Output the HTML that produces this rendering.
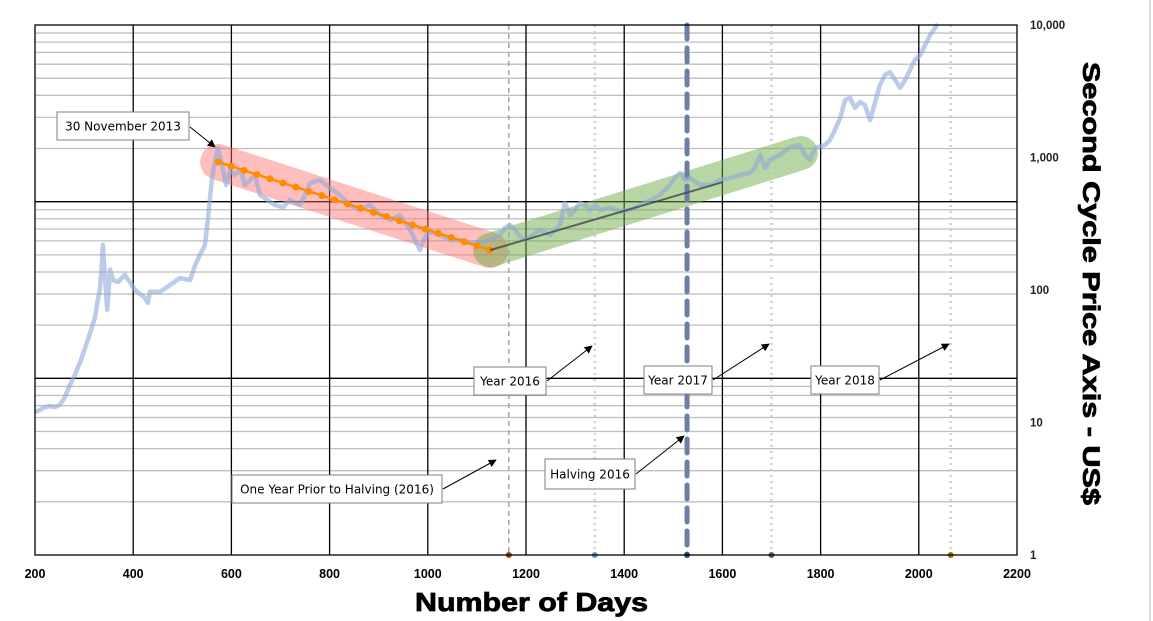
<!DOCTYPE html>
<html><head><meta charset="utf-8">
<style>
html,body{margin:0;padding:0;background:#fff;}
svg{display:block;font-family:"Liberation Sans",Arial,sans-serif;}
.box{font-family:"DejaVu Sans","Liberation Sans",sans-serif;font-size:12px;}
</style></head>
<body>
<svg id="chart" width="1153" height="621" viewBox="0 0 1153 621" xmlns="http://www.w3.org/2000/svg">
<defs>
<marker id="arr" viewBox="0 0 10 10" refX="9" refY="5" markerWidth="8" markerHeight="8" orient="auto"><path d="M0,0 L10,5 L0,10 z" fill="#000"/></marker>
</defs>
<line x1="1150" y1="0" x2="1150" y2="621" stroke="#ddd" stroke-width="2"/>
<g id="grid"></g>
<g id="bands"></g>
<g id="vlines"></g>
<g id="series"></g>
<g id="axes"></g>
<g id="notes"></g>
</svg>
<script>
// ---- data ----
const priceDays = [200,210,220,231,241,251,261,271,281,292,302,312,322,328,332,336,338,343,347,353,359,369,383,393,404,424,430,434,455,475,495,516,526,536,546,552,560,567,573,581,589,597,607,618,628,648,658,668,689,705,709,719,740,750,760,780,801,821,842,862,882,903,923,943,964,974,984,994,1004,1025,1045,1066,1086,1106,1127,1147,1157,1167,1178,1188,1198,1208,1229,1249,1269,1279,1290,1300,1310,1320,1330,1341,1351,1371,1391,1412,1432,1453,1473,1483,1493,1503,1514,1524,1534,1554,1575,1595,1615,1636,1656,1666,1677,1687,1697,1717,1738,1758,1768,1778,1789,1809,1819,1829,1840,1850,1860,1870,1880,1890,1901,1911,1921,1931,1941,1952,1962,1972,1982,1992,2003,2013,2023,2033,2039];
const priceValues = [12.0,12.4,13.1,13.3,13.1,13.6,15.6,19.2,22.8,28.6,36.5,47.3,61.5,84,100,154,219,119,71,142,119,115,130,115,100,87,80,97,97,109,123,119,154,184,218,337,676,957,1180,877,620,805,738,805,620,738,521,495,438,420,438,477,438,521,642,676,589,521,438,402,438,368,338,368,284,238,200,251,274,260,238,238,226,230,238,260,294,310,284,251,238,251,284,260,310,454,368,402,454,438,402,438,402,420,391,402,438,477,521,569,620,700,764,676,700,620,620,676,700,738,764,833,1045,833,957,1045,1200,1242,1045,957,1180,1242,1355,1614,1986,2716,2813,2364,2624,2489,1919,2624,3524,4197,4420,3846,3349,3846,4575,5445,5937,7068,8408,9490,10180];
const trendDays = [573,1127];
const trendValues = [925,200];
const trendMarkers = 22;
const trend2Days = [1127,1601];
const trend2Values = [200,653];
const greenBandDays = [1127,1760];
const greenBandValues = [200,1080];
const eventDays = [1165,1340,1528,1700,2065];
const xTicks = [200,400,600,800,1000,1200,1400,1600,1800,2000,2200];
const yTicks = [1,10,100,1000,10000];
const yTickLabels = ["1","10","100","1,000","10,000"];

// ---- scales ----
const L=35,R=1017,T=25,B=555;
const xS=d=>L+(d-200)*(R-L)/2000;
const yS=v=>B-Math.log10(v)*(B-T)/4;
const yG=k=>B-k*(B-T)/3;
const NS="http://www.w3.org/2000/svg";
function mk(tag,attrs,parent){const e=document.createElementNS(NS,tag);for(const k in attrs)e.setAttribute(k,attrs[k]);parent.appendChild(e);return e;}
const grid=document.getElementById('grid'),bands=document.getElementById('bands'),vl=document.getElementById('vlines'),ser=document.getElementById('series'),axes=document.getElementById('axes'),notes=document.getElementById('notes');

for(let dec=0;dec<3;dec++){for(let k=2;k<=9;k++){const y=yG(dec+Math.log10(k));
 const l=mk('line',{x1:L,x2:R,y1:y,y2:y,stroke:'#bfbfbf','stroke-width':1.3},grid);
 
 }}
for(let dec=1;dec<3;dec++){const y=yG(dec);
 const l=mk('line',{x1:L,x2:R,y1:y,y2:y,stroke:'#000','stroke-width':1.3},grid);
 
 }
xTicks.slice(1,-1).forEach(d=>{const x=xS(d);
 const l=mk('line',{x1:x,x2:x,y1:T,y2:B,stroke:'#000','stroke-width':1.3},grid);
 
 });

const rb=mk('line',{x1:xS(trendDays[0]),y1:yS(trendValues[0]),x2:xS(trendDays[1]),y2:yS(trendValues[1]),stroke:'rgba(255,110,110,0.45)','stroke-width':36,'stroke-linecap':'round'},bands);


const gb=mk('line',{x1:xS(greenBandDays[0]),y1:yS(greenBandValues[0]),x2:xS(greenBandDays[1]),y2:yS(greenBandValues[1]),stroke:'rgba(112,173,71,0.5)','stroke-width':34,'stroke-linecap':'round'},bands);



const evStyles=[{c:'#a6a6a6',w:1.5,da:'5,4',dot:'#9e480e'},{c:'#d0d0d0',w:2.5,da:'2,4',dot:'#5b9bd5'},{c:'#6a7fa3',w:5,da:'14,9',dot:'#264478'},{c:'#d0d0d0',w:2.5,da:'2,4',dot:'#636363'},{c:'#d0d0d0',w:2.5,da:'2,4',dot:'#997300'}];
eventDays.forEach((d,i)=>{const x=xS(d),s=evStyles[i];
 const l=mk('line',{x1:x,x2:x,y1:T,y2:B,stroke:s.c,'stroke-width':s.w,'stroke-dasharray':s.da,'stroke-linecap':i==2?'round':'butt'},vl);
 
 
 const c=mk('circle',{cx:x,cy:B,r:3,fill:s.dot},vl);
 
 });

const pts=priceDays.map((d,i)=>xS(d).toFixed(1)+','+yS(priceValues[i]).toFixed(1)).join(' ');
const pl=mk('polyline',{points:pts,fill:'none',stroke:'rgba(142,169,219,0.6)','stroke-width':4.5,'stroke-linejoin':'round'},ser);


const tl=mk('line',{x1:xS(trendDays[0]),y1:yS(trendValues[0]),x2:xS(trendDays[1]),y2:yS(trendValues[1]),stroke:'#ff8c00','stroke-width':2.5},ser);


for(let i=0;i<trendMarkers;i++){const f=i/(trendMarkers-1);
 const d=trendDays[0]+f*(trendDays[1]-trendDays[0]);
 const v=Math.pow(10,Math.log10(trendValues[0])+f*(Math.log10(trendValues[1])-Math.log10(trendValues[0])));
 const c=mk('circle',{cx:xS(d),cy:yS(v),r:3.5,fill:'#ff8c00'},ser);
 
 }
const t2=mk('line',{x1:xS(trend2Days[0]),y1:yS(trend2Values[0]),x2:xS(trend2Days[1]),y2:yS(trend2Values[1]),stroke:'rgba(60,60,60,0.75)','stroke-width':2},ser);



const fr=mk('rect',{x:L,y:T,width:R-L,height:B-T,fill:'none',stroke:'#000','stroke-width':1.3},axes);


xTicks.forEach(d=>{const t=mk('text',{x:xS(d),y:578,'text-anchor':'middle','font-size':12.5,'font-weight':'bold'},axes);t.textContent=d;
 
 });
yTicks.forEach((v,i)=>{const t=mk('text',{x:1030,y:yS(v)+4,'font-size':11.5,'font-weight':'bold',fill:'#222'},axes);t.textContent=yTickLabels[i];
 
 });
const xt=mk('text',{x:415,y:611,'font-size':26,'font-weight':'bold',stroke:'#000','stroke-width':0.8,textLength:233,lengthAdjust:'spacingAndGlyphs'},axes);xt.textContent='Number of Days';


const yt=mk('text',{x:1083,y:62,'font-size':24,'font-weight':'bold',stroke:'#000','stroke-width':0.8,textLength:443,lengthAdjust:'spacingAndGlyphs',transform:'rotate(90 1083 62)'},axes);yt.textContent='Second Cycle Price Axis - US$';



const ann=[
 {t:'30 November 2013',x:57,y:112,w:132,h:28,ax1:190,ay1:127,ax2:215,ay2:147,n:'peak-annotation'},
 {t:'Year 2016',x:474,y:367,w:72,h:28,ax1:547,ay1:381,ax2:592,ay2:346,n:'year-2016-annotation'},
 {t:'Year 2017',x:644,y:366,w:68,h:28,ax1:713,ay1:380,ax2:769,ay2:344,n:'year-2017-annotation'},
 {t:'Year 2018',x:811,y:366,w:68,h:28,ax1:880,ay1:380,ax2:949,ay2:344,n:'year-2018-annotation'},
 {t:'Halving 2016',x:545,y:459,w:90,h:30,ax1:636,ay1:474,ax2:684,ay2:436,n:'halving-annotation'},
 {t:'One Year Prior to Halving (2016)',x:232,y:475,w:210,h:28,ax1:443,ay1:489,ax2:496,ay2:460,n:'pre-halving-annotation'}];
ann.forEach(a=>{const g=mk('g',{},notes);
 
 
 mk('line',{x1:a.ax1,y1:a.ay1,x2:a.ax2,y2:a.ay2,stroke:'#000','stroke-width':1,'marker-end':'url(#arr)'},g);
 mk('rect',{x:a.x,y:a.y,width:a.w,height:a.h,fill:'#fff',stroke:'#7f7f7f','stroke-width':1},g);
 const t=mk('text',{x:a.x+a.w/2,y:a.y+a.h/2+4.5,'text-anchor':'middle',class:'box'},g);t.textContent=a.t;});
</script>
</body></html>
